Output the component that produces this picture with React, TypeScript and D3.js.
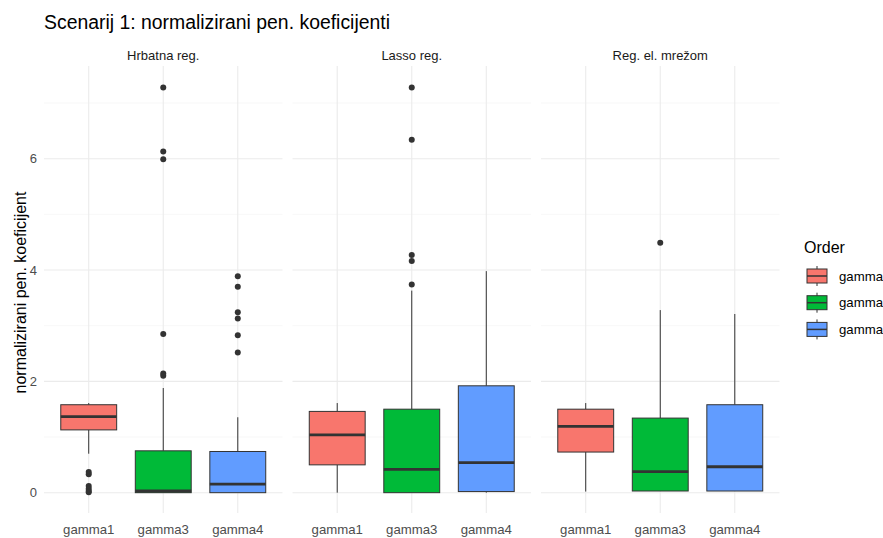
import React from "react";
import * as d3 from "d3";

const methods = ["Hrbatna reg.", "Lasso reg.", "Reg. el. mrežom"];
const orders = ["gamma1", "gamma3", "gamma4"];
const fills = ["#F8766D", "#00BA38", "#619CFF"];
const yTicks = [0, 2, 4, 6];
const yMinor = [1, 3, 5, 7];

// box stats per method (rows) and order (columns)
const whiskerLow = [
  [0.7, 0, 0],
  [0, 0, 0],
  [0.02, 0.03, 0.03],
];
const q1 = [
  [1.128, 0, 0],
  [0.5, 0, 0.02],
  [0.73, 0.03, 0.03],
];
const medians = [
  [1.367, 0.03, 0.155],
  [1.04, 0.42, 0.54],
  [1.19, 0.38, 0.466],
];
const q3 = [
  [1.58, 0.752, 0.74],
  [1.46, 1.5, 1.92],
  [1.5, 1.34, 1.58],
];
const whiskerHigh = [
  [1.61, 1.88, 1.355],
  [1.61, 3.63, 3.98],
  [1.61, 3.28, 3.21],
];
const outliers = [
  [
    [0.37, 0.33, 0.12, 0.07, 0.03, 0.01],
    [7.28, 6.13, 5.99, 2.85, 2.14, 2.1],
    [3.89, 3.7, 3.24, 3.13, 2.83, 2.52],
  ],
  [[], [7.28, 6.34, 4.27, 4.16, 3.74], []],
  [[], [4.49], []],
];

const W = 883;
const H = 538;
const panelTop = 66;
const panelBottom = 513;
const panelLefts = [44, 292.5, 541];
const panelW = 238.5;

export default function App() {
  const y = d3
    .scaleLinear()
    .domain([-0.365, 7.665])
    .range([panelBottom, panelTop]);
  const unit = panelW / 3.2;
  const cx = (i: number) => (0.6 + i) * unit;
  const boxW = 0.75 * unit;
  const font = "Liberation Sans, Arial, sans-serif";

  return (
    <svg
      width={W}
      height={H}
      style={{ position: "absolute", left: 0, top: 0, background: "#fff" }}
      fontFamily={font}
    >
      <rect width={W} height={H} fill="#fff" />
      <text x={44} y={29} fontSize={19.4} fill="#000">
        Scenarij 1: normalizirani pen. koeficijenti
      </text>
      <text
        transform={`translate(25.5,${(panelTop + panelBottom) / 2 + 3}) rotate(-90)`}
        textAnchor="middle"
        fontSize={16}
        fill="#000"
      >
        normalizirani pen. koeficijent
      </text>
      {yTicks.map((t) => (
        <text
          key={t}
          x={37}
          y={y(t)}
          dy="0.35em"
          textAnchor="end"
          fontSize={13}
          fill="#4D4D4D"
        >
          {t}
        </text>
      ))}
      {methods.map((m, mi) => {
        const left = panelLefts[mi];
        return (
          <g key={m} transform={`translate(${left},0)`}>
            <text
              x={panelW / 2}
              y={60}
              textAnchor="middle"
              fontSize={13}
              fill="#1A1A1A"
            >
              {m}
            </text>
            {yMinor.map((t) => (
              <line
                key={"mi" + t}
                x1={0}
                x2={panelW}
                y1={y(t)}
                y2={y(t)}
                stroke="#F2F2F2"
                strokeWidth={0.6}
              />
            ))}
            {yTicks.map((t) => (
              <line
                key={"ma" + t}
                x1={0}
                x2={panelW}
                y1={y(t)}
                y2={y(t)}
                stroke="#EBEBEB"
                strokeWidth={1.1}
              />
            ))}
            {orders.map((o, oi) => (
              <line
                key={"v" + o}
                x1={cx(oi)}
                x2={cx(oi)}
                y1={panelTop}
                y2={panelBottom}
                stroke="#EBEBEB"
                strokeWidth={1.1}
              />
            ))}
            {orders.map((o, oi) => {
              const c = cx(oi);
              return (
                <g key={o}>
                  <line
                    x1={c}
                    x2={c}
                    y1={y(whiskerHigh[mi][oi])}
                    y2={y(q3[mi][oi])}
                    stroke="#333333"
                    strokeWidth={1}
                  />
                  <line
                    x1={c}
                    x2={c}
                    y1={y(q1[mi][oi])}
                    y2={y(whiskerLow[mi][oi])}
                    stroke="#333333"
                    strokeWidth={1}
                  />
                  <rect
                    x={c - boxW / 2}
                    y={y(q3[mi][oi])}
                    width={boxW}
                    height={Math.max(0, y(q1[mi][oi]) - y(q3[mi][oi]))}
                    fill={fills[oi]}
                    stroke="#333333"
                    strokeWidth={1}
                  />
                  <line
                    x1={c - boxW / 2}
                    x2={c + boxW / 2}
                    y1={y(medians[mi][oi])}
                    y2={y(medians[mi][oi])}
                    stroke="#333333"
                    strokeWidth={2.8}
                  />
                  {outliers[mi][oi].map((v, k) => (
                    <circle
                      key={k}
                      cx={c}
                      cy={y(v)}
                      r={3}
                      fill="#333333"
                    />
                  ))}
                </g>
              );
            })}
            {orders.map((o, oi) => (
              <text
                key={"xl" + o}
                x={cx(oi)}
                y={534}
                textAnchor="middle"
                fontSize={13.2}
                fill="#4D4D4D"
              >
                {o}
              </text>
            ))}
          </g>
        );
      })}
      <text x={804} y={253} fontSize={16} fill="#000">
        Order
      </text>
      {orders.map((o, i) => {
        const yc = 276 + i * 26.7;
        return (
          <g key={"lg" + o}>
            <line
              x1={817}
              x2={817}
              y1={yc - 10}
              y2={yc + 10}
              stroke="#333333"
              strokeWidth={1}
            />
            <rect
              x={807}
              y={yc - 7}
              width={20}
              height={14}
              fill={fills[i]}
              stroke="#333333"
              strokeWidth={1}
            />
            <line
              x1={807}
              x2={827}
              y1={yc}
              y2={yc}
              stroke="#333333"
              strokeWidth={1.5}
            />
            <text x={839} y={yc} dy="0.35em" fontSize={13.2} fill="#000">
              {o}
            </text>
          </g>
        );
      })}
    </svg>
  );
}
